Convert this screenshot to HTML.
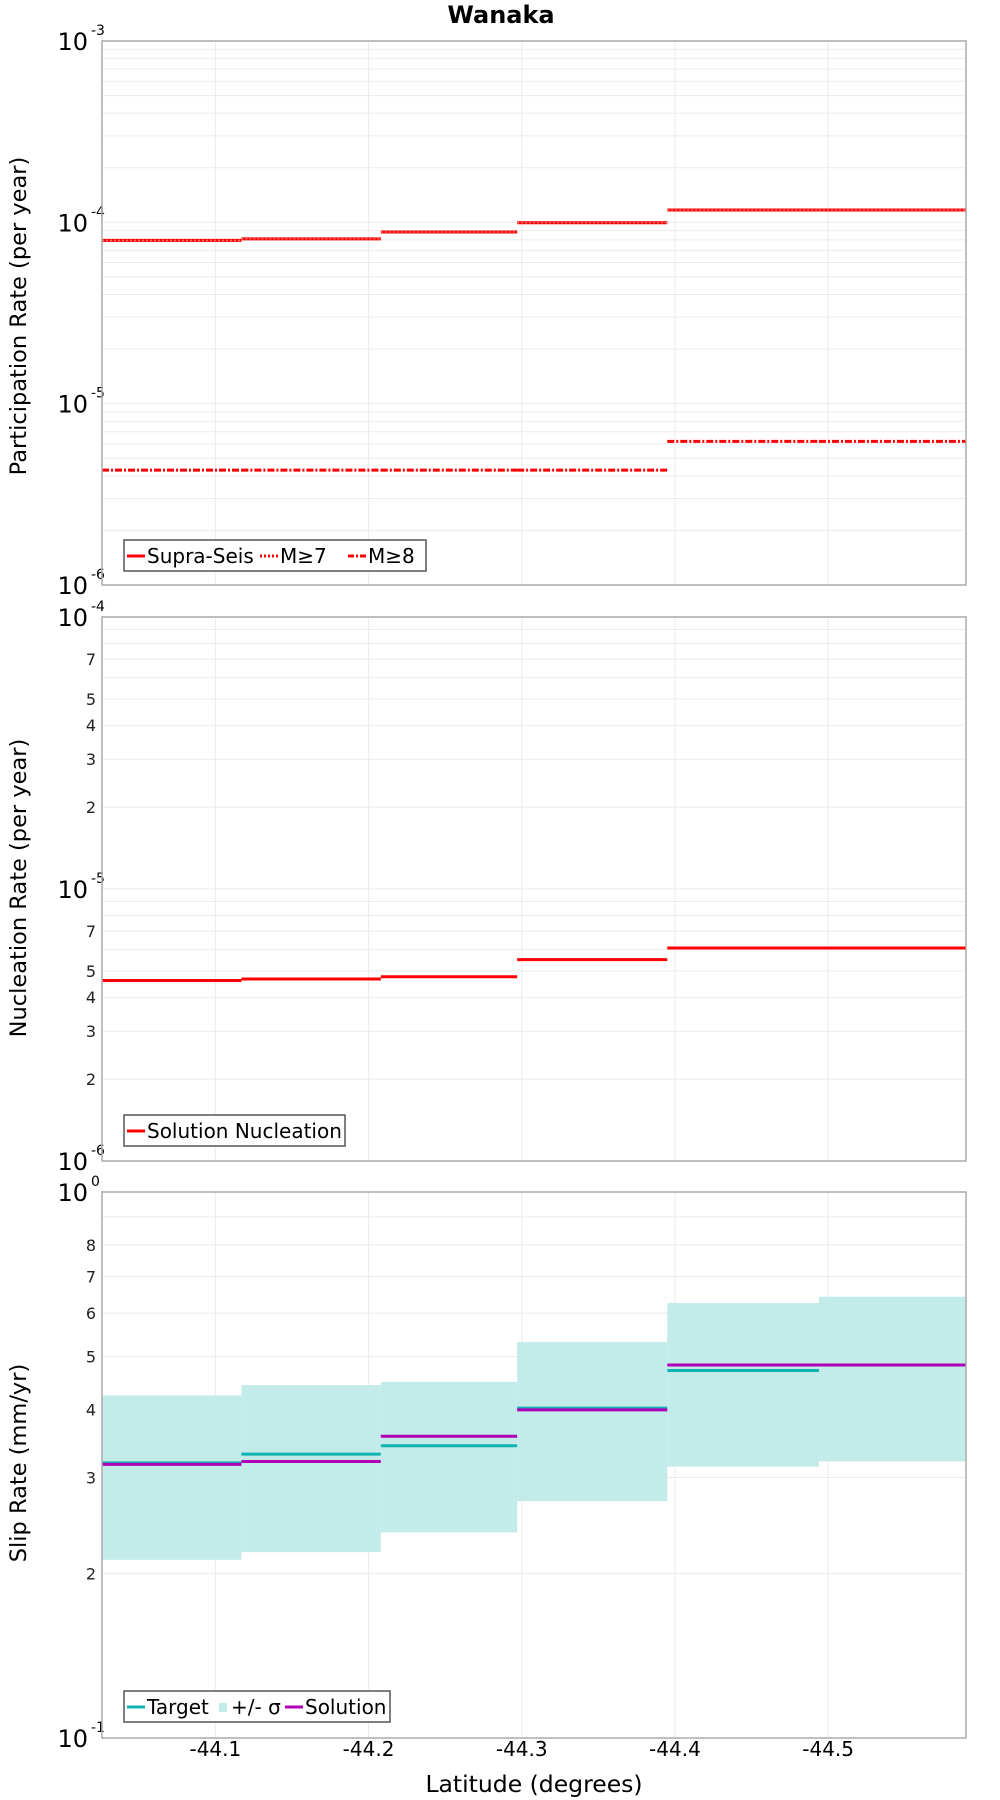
<!DOCTYPE html>
<html><head><meta charset="utf-8"><style>
html,body{margin:0;padding:0;background:#fff;}
svg{display:block;font-family:"DejaVu Sans","Liberation Sans",sans-serif;}
</style></head><body>
<svg id="chart" width="1000" height="1800" viewBox="0 0 1000 1800" xmlns="http://www.w3.org/2000/svg">
<text x="501" y="23" text-anchor="middle" font-weight="bold" font-size="24">Wanaka</text>
<text x="534" y="1792" text-anchor="middle" font-size="23.5">Latitude (degrees)</text>
</svg>
<script>
// x categories: segment boundaries (latitude)
const segEdges = [-44.026, -44.117, -44.208, -44.297, -44.395, -44.494, -44.590];
const xTicks = [-44.1, -44.2, -44.3, -44.4, -44.5];
const xTickLabels = ["-44.1", "-44.2", "-44.3", "-44.4", "-44.5"];
// panel 1: participation rates
const supraSeis = [7.95e-5, 8.1e-5, 8.85e-5, 9.95e-5, 1.17e-4, 1.17e-4];
const mGe7 = [7.95e-5, 8.1e-5, 8.85e-5, 9.95e-5, 1.17e-4, 1.17e-4];
const mGe8 = [4.3e-6, 4.3e-6, 4.3e-6, 4.3e-6, 6.2e-6, 6.2e-6];
// panel 2: nucleation
const nucleation = [4.61e-6, 4.67e-6, 4.76e-6, 5.5e-6, 6.07e-6, 6.07e-6];
// panel 3: slip rates
const target = [0.319, 0.331, 0.343, 0.402, 0.471, 0.482];
const sigmaUpper = [0.424, 0.443, 0.449, 0.531, 0.626, 0.643];
const sigmaLower = [0.212, 0.219, 0.238, 0.2715, 0.314, 0.321];
const solution = [0.317, 0.321, 0.357, 0.399, 0.482, 0.482];
const nucMinorLabels = [2, 3, 4, 5, 7];
const slipMinorLabels = [2, 3, 4, 5, 6, 7, 8];

const NS = "http://www.w3.org/2000/svg";
const svg = document.getElementById("chart");
const L = 102, R = 966;
const xDom = [segEdges[0], segEdges[segEdges.length - 1]];
function xs(v) { return L + (v - xDom[0]) / (xDom[1] - xDom[0]) * (R - L); }
function mk(tag, attrs, parent) {
  const e = document.createElementNS(NS, tag);
  for (const k in attrs) e.setAttribute(k, attrs[k]);
  (parent || svg).appendChild(e);
  return e;
}
function makeY(top, bot, lo, hi) {
  const a = Math.log10(lo), b = Math.log10(hi);
  return v => bot - (Math.log10(v) - a) / (b - a) * (bot - top);
}

function panel(name, top, bot, loExp, hiExp, minorLabels) {
  const ys = makeY(top, bot, Math.pow(10, loExp), Math.pow(10, hiExp));
  const g = mk("g", {});
  
  
  for (let e = loExp; e < hiExp; e++) {
    for (let m = 1; m <= 9; m++) {
      const v = m * Math.pow(10, e);
      const y = ys(v);
      const ln = mk("line", {x1: L, x2: R, y1: y, y2: y, stroke: "#ebebeb", "stroke-width": 1}, g);
      
      
      if (minorLabels && m > 1 && minorLabels.indexOf(m) >= 0) {
        const t = mk("text", {x: 96, y: y + 6, "text-anchor": "end", "font-size": 16, fill: "#222"}, g);
        t.textContent = String(m);
        
        
      }
    }
  }
  xTicks.forEach(v => {
    const ln = mk("line", {x1: xs(v), x2: xs(v), y1: top, y2: bot, stroke: "#ebebeb", "stroke-width": 1}, g);
    
    
  });
  for (let e = loExp; e <= hiExp; e++) {
    const y = ys(Math.pow(10, e));
    const t = mk("text", {x: 88, y: y + 9, "text-anchor": "end", "font-size": 24}, g);
    t.textContent = "10";
    
    
    const s = mk("text", {x: 91, y: y - 6, "text-anchor": "start", "font-size": 14}, g);
    s.textContent = String(e);
    
    
  }
  return {g, ys};
}
function frame(g, top, bot) {
  const r = mk("rect", {x: L, y: top, width: R - L, height: bot - top, fill: "none", stroke: "#aaaaaa", "stroke-width": 1.5}, g);
  
  
}
function steps(g, vals, ys, color, dash, nm, w) {
  vals.forEach((v, i) => {
    const a = {x1: xs(segEdges[i]), x2: xs(segEdges[i + 1]), y1: ys(v), y2: ys(v), stroke: color, "stroke-width": w || 3};
    if (dash) a["stroke-dasharray"] = dash;
    const ln = mk("line", a, g);
    
    
  });
}
function yTitle(txt, cy) {
  const t = mk("text", {x: 0, y: 0, transform: "translate(26," + cy + ") rotate(-90)", "text-anchor": "middle", "font-size": 22.5});
  t.textContent = txt;
  
  
}
function legend(x, y, w, items) {
  const g = mk("g", {});
  
  
  const r = mk("rect", {x: x, y: y, width: w, height: 31, fill: "#fff", stroke: "#555", "stroke-width": 1.5}, g);
  
  
  let cx = x + 3;
  items.forEach(it => {
    let sw;
    if (it.fill) {
      sw = mk("rect", {x: cx + 2, y: y + 12, width: 8, height: 9, fill: it.fill}, g);
      cx += 14;
    } else {
      const a = {x1: cx, x2: cx + 18, y1: y + 16, y2: y + 16, stroke: it.color, "stroke-width": 3};
      if (it.dash) a["stroke-dasharray"] = it.dash;
      sw = mk("line", a, g);
      cx += 20;
    }
    
    
    const t = mk("text", {x: cx, y: y + 23, "font-size": 20}, g);
    t.textContent = it.label;
    
    
    cx += it.w;
  });
}

// Panel 1
const p1 = panel("participation", 41, 585, -6, -3, null);
steps(p1.g, supraSeis, p1.ys, "#ff0000", null, "supra-seis-segment");
steps(p1.g, mGe7, p1.ys, "#ff6a6a", "2,2", "m7-segment", 1.5);
steps(p1.g, mGe8, p1.ys, "#ff0000", "7,2,2,2", "m8-segment");
frame(p1.g, 41, 585);
yTitle("Participation Rate (per year)", 316);
legend(124, 540, 302, [
  {label: "Supra-Seis", color: "#ff0000", w: 113},
  {label: "M≥7", color: "#ff0000", dash: "2,2", w: 68},
  {label: "M≥8", color: "#ff0000", dash: "6,2,2,2", w: 50}
]);

// Panel 2
const p2 = panel("nucleation", 617, 1161, -6, -4, nucMinorLabels);
steps(p2.g, nucleation, p2.ys, "#ff0000", null, "nucleation-segment");
frame(p2.g, 617, 1161);
yTitle("Nucleation Rate (per year)", 888);
legend(124, 1115, 221, [{label: "Solution Nucleation", color: "#ff0000", w: 200}]);

// Panel 3
const p3 = panel("slip-rate", 1192, 1738, -1, 0, slipMinorLabels);
sigmaUpper.forEach((u, i) => {
  const y1 = p3.ys(u), y2 = p3.ys(sigmaLower[i]);
  const r = mk("rect", {x: xs(segEdges[i]), y: y1, width: xs(segEdges[i + 1]) - xs(segEdges[i]), height: y2 - y1, fill: "#c2ebea"}, p3.g);
  
  
});
steps(p3.g, target, p3.ys, "#11b2b2", null, "target-segment");
steps(p3.g, solution, p3.ys, "#b000b8", null, "solution-segment");
frame(p3.g, 1192, 1738);
yTitle("Slip Rate (mm/yr)", 1463);
legend(124, 1691, 266, [
  {label: "Target", color: "#11b2b2", w: 70},
  {label: "+/- σ", fill: "#c2ebea", w: 54},
  {label: "Solution", color: "#b000b8", w: 90}
]);

// x tick labels
xTicks.forEach((v, i) => {
  const t = mk("text", {x: xs(v), y: 1756, "text-anchor": "middle", "font-size": 20});
  t.textContent = xTickLabels[i];
  
  
});
</script>
</body></html>
